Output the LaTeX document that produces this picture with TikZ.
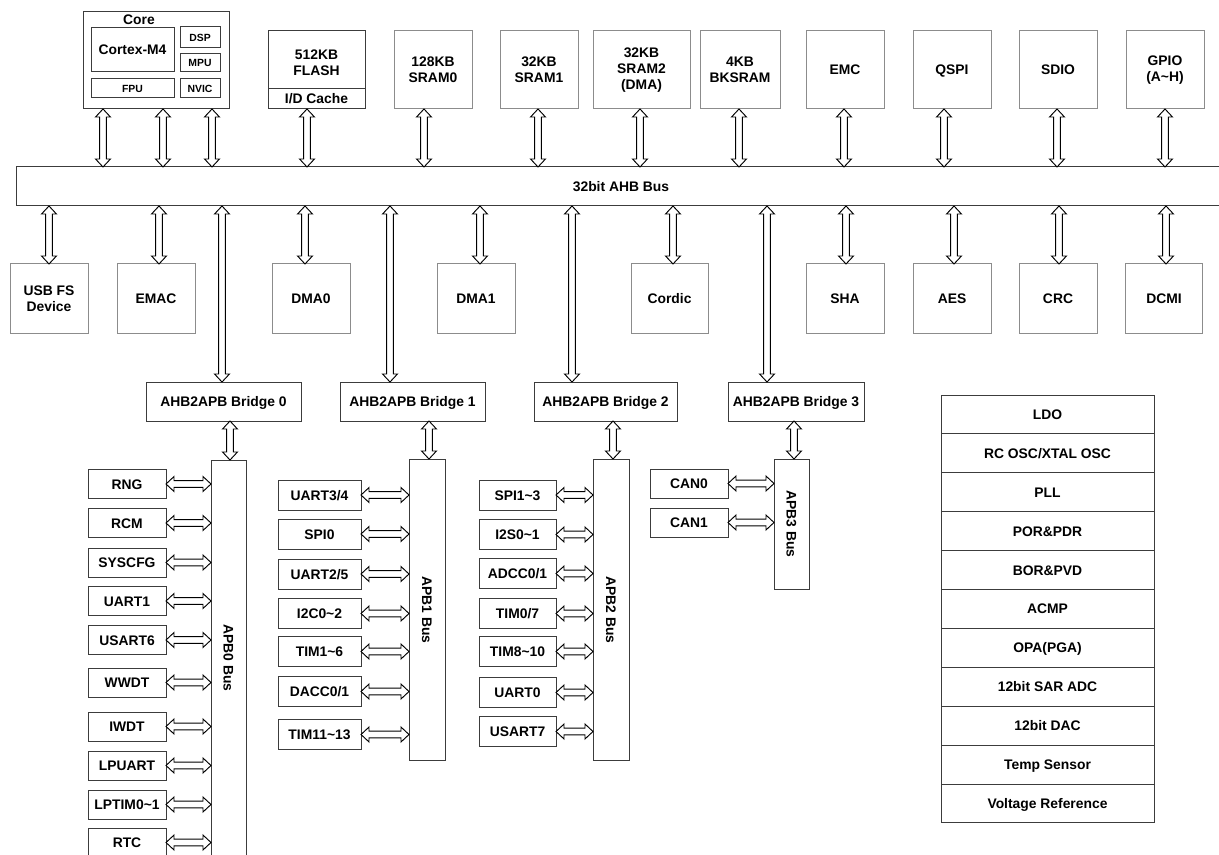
\documentclass[tikz,border=0pt]{standalone}
\usepackage{fontspec}
\setmainfont{Liberation Sans}
\usetikzlibrary{calc}
\definecolor{bxgray}{HTML}{8C8C8C}
\definecolor{bxdark}{HTML}{3C3C3C}
\def\arrHL{6pt}
\def\arrHW{5.6pt}
\def\arrSW{2.5pt}
\tikzset{
  lbl/.style={font=\bfseries\fontsize{10.4}{12.2}\selectfont,inner sep=0pt,outer sep=0pt,align=center,
    text height=7.5pt,text depth=0pt},
  ml/.style={text height=,text depth=},
  box/.style={draw=bxgray,line width=0.75pt,fill=white},
  dbox/.style={draw=bxdark,line width=0.75pt,fill=white},
  sz/.style 2 args={minimum width={(#1)*0.75pt},minimum height={(#2)*0.75pt}},
  tiny/.style={font=\bfseries\fontsize{7.8}{9}\selectfont,text height=5.6pt},
  barrow/.style={draw=black,fill=white,line width=0.7pt,line join=miter,
    to path={(\tikztotarget) coordinate (bT) (\tikztostart) coordinate (bS)
      -- ($(bS)!\arrHL!(bT)!\arrHW!90:(bT)$)
      -- ($(bS)!\arrHL!(bT)!\arrSW!90:(bT)$)
      -- ($(bT)!\arrHL!(bS)!\arrSW!-90:(bS)$)
      -- ($(bT)!\arrHL!(bS)!\arrHW!-90:(bS)$)
      -- (bT)
      -- ($(bT)!\arrHL!(bS)!\arrHW!90:(bS)$)
      -- ($(bT)!\arrHL!(bS)!\arrSW!90:(bS)$)
      -- ($(bS)!\arrHL!(bT)!\arrSW!-90:(bT)$)
      -- ($(bS)!\arrHL!(bT)!\arrHW!-90:(bT)$)
      -- cycle}}
}
\begin{document}
\begin{tikzpicture}[x=0.75pt,y=-0.75pt,every node/.style={lbl}]
\fill[white] (0,0) rectangle (1219,855);
\clip (0,0) rectangle (1219,855);

% ---------- core ----------
\node[dbox,sz={146}{97}] (core) at (156,60.5) {};
\node (corelbl) at (139,19.5) {Core};
\node[dbox,sz={83}{44}] (cortex) at (132.5,50) {Cortex-M4};
\node[dbox,sz={83}{19},tiny] (fpu) at (132.5,88.5) {FPU};
\node[dbox,sz={40}{21},tiny] (dsp) at (200,37.5) {DSP};
\node[dbox,sz={40}{18},tiny] (mpu) at (200,63) {MPU};
\node[dbox,sz={40}{19},tiny] (nvic) at (200,88.5) {NVIC};

% ---------- flash ----------
\node[dbox,sz={97}{58}] (flash) at (316.5,60) {};
\node[ml] (flashlbl) at (316.5,63) {512KB\\FLASH};
\node[dbox,sz={97}{20}] (cache) at (316.5,99) {I/D Cache};

% ---------- top boxes ----------
\node[box,ml,sz={78}{78}] (sram0) at (433,70) {128KB\\SRAM0};
\node[box,ml,sz={78}{78}] (sram1) at (539,70) {32KB\\SRAM1};
\node[box,ml,sz={97}{78}] (sram2) at (641.5,70) {32KB\\SRAM2\\(DMA)};
\node[box,ml,sz={80}{78}] (bksram) at (740,70) {4KB\\BKSRAM};
\node[box,sz={78}{78}] (emc) at (845,70) {EMC};
\node[box,sz={78}{78}] (qspi) at (952,70) {QSPI};
\node[box,sz={78}{78}] (sdio) at (1058,70) {SDIO};
\node[box,ml,sz={78}{78}] (gpio) at (1165,70) {GPIO\\(A\textasciitilde H)};

% ---------- AHB bus ----------
\node[dbox,sz={1215}{39}] (ahb) at (623.5,186.5) {};
\node (ahblbl) at (621,186.5) {32bit AHB Bus};

% ---------- bottom row ----------
\node[box,ml,sz={78}{69}] (usb) at (49,298.5) {USB FS\\Device};
\node[box,sz={78}{69}] (emac) at (156,298.5) {EMAC};
\node[box,sz={78}{69}] (dma0) at (311,298.5) {DMA0};
\node[box,sz={78}{69}] (dma1) at (476,298.5) {DMA1};
\node[box,sz={77}{69}] (cordic) at (669.5,298.5) {Cordic};
\node[box,sz={78}{69}] (sha) at (845,298.5) {SHA};
\node[box,sz={78}{69}] (aes) at (952,298.5) {AES};
\node[box,sz={78}{69}] (crc) at (1058,298.5) {CRC};
\node[box,sz={77}{69}] (dcmi) at (1164,298.5) {DCMI};

% ---------- bridges ----------
\node[dbox,sz={155}{39}] (br0) at (223.5,401.5) {AHB2APB Bridge 0};
\node[dbox,sz={145}{39}] (br1) at (412.5,401.5) {AHB2APB Bridge 1};
\node[dbox,sz={143}{39}] (br2) at (605.5,401.5) {AHB2APB Bridge 2};
\node[dbox,sz={136}{39}] (br3) at (796,401.5) {AHB2APB Bridge 3};

% ---------- APB buses ----------
\node[dbox,sz={35}{398}] (apb0) at (228.5,659) {};
\node[rotate=-90] (apb0lbl) at (228.5,658) {APB0 Bus};
\node[dbox,sz={36}{301}] (apb1) at (427,609.5) {};
\node[rotate=-90] (apb1lbl) at (427,610) {APB1 Bus};
\node[dbox,sz={36}{301}] (apb2) at (611,609.5) {};
\node[rotate=-90] (apb2lbl) at (611,610) {APB2 Bus};
\node[dbox,sz={35}{130}] (apb3) at (791.5,524) {};
\node[rotate=-90] (apb3lbl) at (791.5,524) {APB3 Bus};

% ---------- vertical arrows: top boxes <-> AHB ----------
\foreach \n/\x in {core/103,core/163,core/212,cache/307,sram0/424,sram1/538,sram2/640,bksram/739,emc/844,qspi/944,sdio/1057,gpio/1165}{
  \coordinate (ax) at (\x,0);
  \draw[barrow] (\n.south -| ax) to (ahb.north -| ax);
}
% ---------- vertical arrows: AHB <-> bottom row / bridges ----------
\foreach \n/\x in {usb/49,emac/159,dma0/305,dma1/480,cordic/673,sha/846,aes/954,crc/1059,dcmi/1166,br0/222,br1/390,br2/572,br3/767}{
  \coordinate (bx) at (\x,0);
  \draw[barrow] (ahb.south -| bx) to (\n.north -| bx);
}
% ---------- bridges <-> APB ----------
\foreach \b/\p/\x in {br0/apb0/230,br1/apb1/429,br2/apb2/613,br3/apb3/794}{
  \coordinate (px) at (\x,0);
  \draw[barrow] (\b.south -| px) to (\p.north -| px);
}

% ---------- APB0 peripherals ----------
\foreach \n/\t/\y in {rng/RNG/484,rcm/RCM/523,syscfg/SYSCFG/562.5,uart1/UART1/601,usart6/USART6/640,wwdt/WWDT/682.5,iwdt/IWDT/726.5,lpuart/LPUART/765.5,lptim/{LPTIM0\textasciitilde 1}/804.5,rtc/RTC/842.5}{
  \node[dbox,sz={78}{29}] (\n) at (127,\y) {\t};
  \draw[barrow] (\n.east) to (\n.east -| apb0.west);
}
% ---------- APB1 peripherals ----------
\foreach \n/\t/\y in {u34/{UART3/4}/495,spi0/SPI0/534,u25/{UART2/5}/574,i2c/{I2C0\textasciitilde 2}/613.5,tima/{TIM1\textasciitilde 6}/651.5,dacc/{DACC0/1}/691.5,timb/{TIM11\textasciitilde 13}/734.5}{
  \node[dbox,sz={83}{30}] (\n) at (319.5,\y) {\t};
  \draw[barrow] (\n.east) to (\n.east -| apb1.west);
}
% ---------- APB2 peripherals ----------
\foreach \n/\t/\y in {spi13/{SPI1\textasciitilde 3}/495,i2s/{I2S0\textasciitilde 1}/534.5,adcc/{ADCC0/1}/573.5,timc/{TIM0/7}/613.5,timd/{TIM8\textasciitilde 10}/651.5,uart0/UART0/692.5,usart7/USART7/731.5}{
  \node[dbox,sz={77}{30}] (\n) at (517.5,\y) {\t};
  \draw[barrow] (\n.east) to (\n.east -| apb2.west);
}
% ---------- APB3 peripherals ----------
\foreach \n/\t/\y in {can0/CAN0/483.5,can1/CAN1/522.5}{
  \node[dbox,sz={78}{29}] (\n) at (689,\y) {\t};
  \draw[barrow] (\n.east) to (\n.east -| apb3.west);
}

% ---------- analog column ----------
\foreach \t [count=\i from 0] in {LDO,{RC OSC/XTAL OSC},PLL,{POR\&PDR},{BOR\&PVD},ACMP,{OPA(PGA)},{12bit SAR ADC},{12bit DAC},{Temp Sensor},{Voltage Reference}}{
  \node[dbox,sz={213}{38.9}] (an\i) at (1047.5,{395+38.9*(\i+0.5)}) {\t};
}
\end{tikzpicture}
\end{document}
